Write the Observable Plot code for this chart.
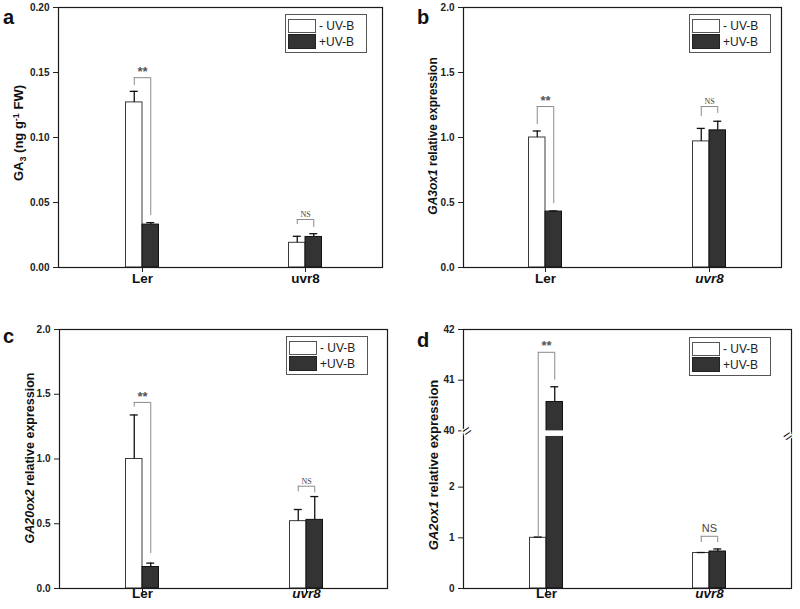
<!DOCTYPE html>
<html>
<head>
<meta charset="utf-8">
<script src="https://cdn.jsdelivr.net/npm/d3@7"></script>
<script src="https://cdn.jsdelivr.net/npm/@observablehq/plot@0.6"></script>
<style>
  body { margin: 0; background: #fff; }
  #fig { position: relative; width: 800px; height: 609px; font-family: "Liberation Sans", Arial, sans-serif; color: #111; }
  .panel { position: absolute; }
  .letter { position: absolute; font-weight: bold; font-size: 20px; line-height: 1; }
  .legend { position: absolute; border: 1px solid #555; box-sizing: border-box; background: #fff; }
  .legend .sw { position: absolute; box-sizing: border-box; }
  .legend .lab { position: absolute; font-size: 12px; line-height: 1; color: #222; }
</style>
</head>
<body>
<div id="fig"></div>
<script>
// ---------------- data ----------------
const genotypes = ["Ler", "uvr8"];
const treatments = ["- UV-B", "+UV-B"];

// (a) GA3 content (ng g-1 FW)
const gaMinus = [0.127, 0.019];
const gaMinusSE = [0.0085, 0.005];
const gaPlus = [0.033, 0.0235];
const gaPlusSE = [0.0015, 0.0025];

// (b) GA3ox1 relative expression
const ox3Minus = [1.00, 0.97];
const ox3MinusSE = [0.05, 0.10];
const ox3Plus = [0.43, 1.055];
const ox3PlusSE = [0.005, 0.07];

// (c) GA20ox2 relative expression
const ox20Minus = [1.00, 0.52];
const ox20MinusSE = [0.34, 0.09];
const ox20Plus = [0.166, 0.53];
const ox20PlusSE = [0.03, 0.18];

// (d) GA2ox1 relative expression
const ox2Minus = [1.00, 0.70];
const ox2MinusSE = [0.015, 0.01];
const ox2Plus = [40.57, 0.73];
const ox2PlusSE = [0.30, 0.05];

// significance brackets: label, bracket top, left-leg end, right-leg end
const sigLabels = ["**", "NS"];
const aSigTop = [0.146, 0.0369], aSigL = [0.140, 0.0331], aSigR = [0.040, 0.0308];
const bSigTop = [1.238, 1.238], bSigL = [1.10, 1.16], bSigR = [0.49, 1.185];
const cSigTop = [1.437, 0.79], cSigL = [1.40, 0.746], cSigR = [0.27, 0.738];
const dSigTop = [41.55, 1.03], dSigL = [1.0, 0.907], dSigR = [41.0, 0.907];

// axis ticks
const aTicks = [0, 0.05, 0.10, 0.15, 0.20];
const bTicks = [0, 0.5, 1.0, 1.5, 2.0];
const cTicks = [0, 0.5, 1.0, 1.5, 2.0];
const dTicks = [0, 1, 2, 40, 41, 42];
const dBreak = [3, 40];   // broken segment of the panel-d axis
const dBreakGap = 0.11;   // visual gap at the break, in axis units

// ---------------- layout ----------------
const BW = 33;           // pixel width of a pair of bars
const HALF = BW / 2;
const Q = BW / 4;
const FONT = "Liberation Sans, Arial, sans-serif";

const identity = v => v;
// broken-axis transform for panel d: values above the break are shifted down
const brk = v => v <= dBreak[0] ? v : v - (dBreak[1] - dBreak[0]) + dBreakGap;
const unbrk = u => u <= dBreak[0] + dBreakGap / 2 ? u : u + (dBreak[1] - dBreak[0]) - dBreakGap;

const panels = [
  { letter: "a", left: 0, top: 0, w: 400, h: 300, ml: 58, mr: 18, mt: 7, mb: 33, centers: [142, 305],
    minus: gaMinus, minusSE: gaMinusSE, plus: gaPlus, plusSE: gaPlusSE,
    sigTop: aSigTop, sigL: aSigL, sigR: aSigR, nsSerif: true,
    tx: identity, inv: identity, domain: [0, 0.2], ticks: aTicks, fmt: d3.format(".2f"),
    catDy: 15, uvrItalic: false,
    ylab: [{ t: "GA" }, { t: "3", sub: true }, { t: " (ng g" }, { t: "-1", sup: true }, { t: " FW)" }],
    ylabX: 23, ylabY: 133, ylabSize: 13,
    letterX: 3, letterY: 7, legend: { x: 285, y: 14 } },
  { letter: "b", left: 400, top: 0, w: 400, h: 300, ml: 63, mr: 19, mt: 7, mb: 33, centers: [145, 309],
    minus: ox3Minus, minusSE: ox3MinusSE, plus: ox3Plus, plusSE: ox3PlusSE,
    sigTop: bSigTop, sigL: bSigL, sigR: bSigR, nsSerif: true,
    tx: identity, inv: identity, domain: [0, 2], ticks: bTicks, fmt: d3.format(".1f"),
    catDy: 15, uvrItalic: true,
    ylab: [{ t: "GA3ox1", i: true }, { t: " relative expression" }],
    ylabX: 37, ylabY: 136, ylabSize: 12,
    letterX: 17, letterY: 7, legend: { x: 289, y: 14 } },
  { letter: "c", left: 0, top: 300, w: 400, h: 309, ml: 59, mr: 13, mt: 29, mb: 21, centers: [142, 306],
    minus: ox20Minus, minusSE: ox20MinusSE, plus: ox20Plus, plusSE: ox20PlusSE,
    sigTop: cSigTop, sigL: cSigL, sigR: cSigR, nsSerif: true,
    tx: identity, inv: identity, domain: [0, 2], ticks: cTicks, fmt: d3.format(".1f"),
    catDy: 9, uvrItalic: true,
    ylab: [{ t: "GA20ox2", i: true }, { t: " relative expression" }],
    ylabX: 34, ylabY: 158, ylabSize: 12.5,
    letterX: 3, letterY: 26, legend: { x: 286, y: 36 } },
  { letter: "d", left: 400, top: 300, w: 400, h: 309, ml: 63, mr: 9, mt: 29, mb: 21, centers: [146, 309],
    minus: ox2Minus, minusSE: ox2MinusSE, plus: ox2Plus, plusSE: ox2PlusSE,
    sigTop: dSigTop, sigL: dSigL, sigR: dSigR, nsSerif: false,
    tx: brk, inv: unbrk, domain: [0, brk(42)], ticks: dTicks.map(brk), fmt: d3.format("d"),
    catDy: 9, uvrItalic: true, broken: true,
    ylab: [{ t: "GA2ox1", i: true }, { t: " relative expression" }],
    ylabX: 38, ylabY: 165, ylabSize: 13,
    letterX: 17, letterY: 30, legend: { x: 289, y: 37 } }
];

const fig = document.getElementById("fig");

function buildPanel(cfg) {
  const T = cfg.tx;
  const rows = [];
  genotypes.forEach((g, i) => {
    rows.push({ g, t: treatments[0], v: cfg.minus[i], e: cfg.minusSE[i] });
    rows.push({ g, t: treatments[1], v: cfg.plus[i], e: cfg.plusSE[i] });
  });
  const minusRows = rows.filter(d => d.t === treatments[0]);
  const plusRows = rows.filter(d => d.t === treatments[1]);
  const sig = genotypes.map((g, i) => ({ g, label: sigLabels[i], top: cfg.sigTop[i], l: cfg.sigL[i], r: cfg.sigR[i] }));

  const [c0, c1] = cfg.centers;
  const step = c1 - c0;

  const marks = [
    Plot.barY(minusRows, { x: "g", y: d => T(d.v), fill: "white", stroke: "#3a3a3a", strokeWidth: 1, insetRight: HALF }),
    Plot.barY(plusRows, { x: "g", y: d => T(d.v), fill: "#333", stroke: "#111", strokeWidth: 1, insetLeft: HALF }),
  ];
  if (cfg.broken) {
    // white gap across bars that cross the axis break
    marks.push(Plot.barY(plusRows.filter(d => d.v > dBreak[1]), {
      x: "g", y1: () => dBreak[0], y2: () => T(dBreak[1]), fill: "white", insetLeft: HALF - 1, insetRight: -1 }));
  }
  marks.push(
    // error bars
    Plot.ruleX(minusRows, { x: "g", y1: d => T(d.v), y2: d => T(d.v + d.e), dx: -Q, stroke: "#111", strokeWidth: 1.3 }),
    Plot.ruleX(plusRows, { x: "g", y1: d => T(d.v), y2: d => T(d.v + d.e), dx: Q, stroke: "#111", strokeWidth: 1.3 }),
    Plot.tickY(minusRows, { x: "g", y: d => T(d.v + d.e), insetLeft: Q - 4, insetRight: HALF + Q - 4, stroke: "#111", strokeWidth: 1.3 }),
    Plot.tickY(plusRows, { x: "g", y: d => T(d.v + d.e), insetLeft: HALF + Q - 4, insetRight: Q - 4, stroke: "#111", strokeWidth: 1.3 }),
    // significance brackets
    Plot.ruleX(sig, { x: "g", y1: d => T(d.l), y2: d => T(d.top), dx: -Q, stroke: "#8a8a8a", strokeWidth: 1 }),
    Plot.ruleX(sig, { x: "g", y1: d => T(d.r), y2: d => T(d.top), dx: Q, stroke: "#8a8a8a", strokeWidth: 1 }),
    Plot.tickY(sig, { x: "g", y: d => T(d.top), insetLeft: Q, insetRight: Q, stroke: "#8a8a8a", strokeWidth: 1 }),
    Plot.text(sig.filter(d => d.label === "**"), { x: "g", y: d => T(d.top), text: "label", dy: -6, fontSize: 13, fontWeight: "bold", fill: "#555" }),
    Plot.text(sig.filter(d => d.label === "NS"), { x: "g", y: d => T(d.top), text: "label", dy: cfg.nsSerif ? -5 : -8,
      fontSize: cfg.nsSerif ? 8 : 11, fontWeight: "normal", fontFamily: cfg.nsSerif ? "Liberation Serif, Times New Roman, serif" : FONT, fill: "#444" }),
    // category labels
    Plot.text([genotypes[0]], { x: d => d, frameAnchor: "bottom", dy: cfg.catDy, text: d => d, fontSize: 13.5, fontWeight: "bold", fill: "#111" }),
    Plot.text([genotypes[1]], { x: d => d, frameAnchor: "bottom", dy: cfg.catDy, text: d => d, fontSize: 13.5, fontWeight: "bold", fontStyle: cfg.uvrItalic ? "italic" : "normal", fill: "#111" }),
    Plot.frame({ stroke: "#1a1a1a", strokeWidth: 1.2 })
  );
  if (cfg.broken) {
    const mid = (dBreak[0] + T(dBreak[1])) / 2;
    for (const side of ["left", "right"]) {
      marks.push(Plot.text([mid], { y: d => d, frameAnchor: side, text: () => "=", rotate: -35, fontSize: 15,
        fontWeight: "normal", fill: "#111", stroke: "white", strokeWidth: 2.5, paintOrder: "stroke" }));
    }
  }

  const svg = Plot.plot({
    width: cfg.w, height: cfg.h,
    marginLeft: cfg.ml, marginRight: cfg.mr, marginTop: cfg.mt, marginBottom: cfg.mb,
    x: { type: "band", domain: genotypes, range: [c0 - HALF, c1 + HALF], paddingInner: 1 - BW / step, paddingOuter: 0, round: false,
         tickSize: 5, tickFormat: () => "", label: null },
    y: { domain: cfg.domain, ticks: cfg.ticks, tickFormat: u => cfg.fmt(cfg.inv(u)), tickSize: 5, tickPadding: 4, label: null, nice: false },
    style: { fontFamily: FONT, fontSize: "10px", fontWeight: "bold", color: "#222", background: "transparent", overflow: "visible" },
    marks
  });

  // rotated y-axis title with italic / sub / superscript parts
  const t = d3.select(svg).append("text")
    .attr("transform", `translate(${cfg.ylabX},${cfg.ylabY}) rotate(-90)`)
    .attr("text-anchor", "middle")
    .attr("font-family", FONT)
    .attr("font-weight", "bold")
    .attr("font-size", cfg.ylabSize)
    .attr("fill", "#111");
  let shift = 0;
  cfg.ylab.forEach(p => {
    const target = p.sub ? 3 : p.sup ? -4 : 0;
    const ts = t.append("tspan").text(p.t);
    if (target !== shift) { ts.attr("dy", target - shift); shift = target; }
    if (p.i) ts.attr("font-style", "italic");
    if (p.sub || p.sup) ts.attr("font-size", cfg.ylabSize * 0.7);
  });

  const wrap = document.createElement("div");
  wrap.className = "panel";
  wrap.style.left = cfg.left + "px";
  wrap.style.top = cfg.top + "px";
  wrap.appendChild(svg);
  fig.appendChild(wrap);

  const L = document.createElement("div");
  L.className = "letter";
  L.textContent = cfg.letter;
  L.style.left = (cfg.left + cfg.letterX) + "px";
  L.style.top = (cfg.top + cfg.letterY) + "px";
  fig.appendChild(L);

  const lg = document.createElement("div");
  lg.className = "legend";
  lg.style.left = (cfg.left + cfg.legend.x) + "px";
  lg.style.top = (cfg.top + cfg.legend.y) + "px";
  lg.style.width = "82px";
  lg.style.height = "39px";
  const swStyles = [
    { bg: "#fff", border: "1px solid #555", top: 4, h: 14 },
    { bg: "#333", border: "1px solid #222", top: 19, h: 15 }
  ];
  treatments.forEach((tr, i) => {
    const sw = document.createElement("div");
    sw.className = "sw";
    sw.style.left = "2px"; sw.style.width = "28px";
    sw.style.top = swStyles[i].top + "px"; sw.style.height = swStyles[i].h + "px";
    sw.style.background = swStyles[i].bg; sw.style.border = swStyles[i].border;
    lg.appendChild(sw);
    const lab = document.createElement("div");
    lab.className = "lab";
    lab.textContent = tr;
    lab.style.left = "33px";
    lab.style.top = (swStyles[i].top + swStyles[i].h / 2 - 6) + "px";
    lg.appendChild(lab);
  });
  fig.appendChild(lg);
}

panels.forEach(buildPanel);
</script>
</body>
</html>
